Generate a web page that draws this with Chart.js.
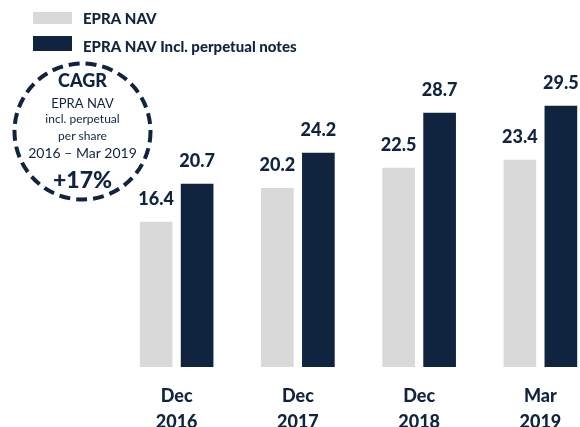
<!DOCTYPE html>
<html>
<head>
<meta charset="utf-8">
<script src="https://cdn.jsdelivr.net/npm/chart.js@4"></script>
<style>
  html, body { margin: 0; padding: 0; background: #fff; overflow: hidden; }
  #wrap { width: 580px; height: 427px; overflow: hidden; position: relative; }
  canvas { display: block; }
</style>
</head>
<body>
<div id="wrap"><canvas id="nav-chart" width="610" height="427"></canvas></div>
<script>
// EPRA NAV per share, grouped bars
const categories = [['Dec', '2016'], ['Dec', '2017'], ['Dec', '2018'], ['Mar', '2019']];
const epraNav = [16.4, 20.2, 22.5, 23.4];
const epraNavPerp = [20.7, 24.2, 28.7, 29.5];
const seriesNames = ['EPRA NAV', 'EPRA NAV Incl. perpetual notes'];
const cagrLines = ['CAGR', 'EPRA NAV', 'incl. perpetual', 'per share', '2016 \u2013 Mar 2019', '+17%'];

const NAVY = '#10233F';
const GREY = '#D9D9D9';
const FONT = 'Lato, "Open Sans", sans-serif';

// value labels above bars + two-line category labels
const labelsPlugin = {
    id: 'navLabels',
    afterDatasetsDraw(chart) {
        const ctx = chart.ctx;
        ctx.save();
        ctx.fillStyle = NAVY;
        ctx.textAlign = 'center';
        ctx.textBaseline = 'alphabetic';
        ctx.font = '900 18px ' + FONT;
        chart.data.datasets.forEach(function(ds, i) {
            chart.getDatasetMeta(i).data.forEach(function(bar, j) {
                ctx.fillText(ds.data[j].toFixed(1), bar.x, bar.y - 17);
            });
        });
        const xs = chart.scales.x;
        categories.forEach(function(lines, j) {
            const x = xs.getPixelForValue(j);
            ctx.fillText(lines[0], x, 402);
            ctx.fillText(lines[1], x, 428);
        });
        ctx.restore();
    }
};

// legend top-left and dashed CAGR badge
const extrasPlugin = {
    id: 'navExtras',
    afterDraw(chart) {
        const ctx = chart.ctx;
        ctx.save();
        // legend
        ctx.font = '900 15px ' + FONT;
        ctx.textAlign = 'left';
        chart.data.datasets.forEach(function(ds, i) {
            const y = 12 + i * 24;
            ctx.fillStyle = ds.backgroundColor;
            ctx.fillRect(33, y, 39, i === 0 ? 12 : 15);
            ctx.fillStyle = NAVY;
            ctx.fillText(ds.label, 83, 24 + i * 28);
        });

        // circle
        const cx = 82.5, cy = 131.5;
        ctx.strokeStyle = NAVY;
        ctx.lineWidth = 4;
        ctx.setLineDash([11, 6]);
        ctx.beginPath();
        ctx.arc(cx, cy, 68, 0, Math.PI * 2);
        ctx.stroke();
        ctx.setLineDash([]);

        ctx.textAlign = 'center';
        ctx.fillStyle = NAVY;
        const styles = [
            ['900 18px ', 87],
            ['13px ', 108],
            ['12px ', 123],
            ['12px ', 140],
            ['14px ', 158],
            ['900 23px ', 188]
        ];
        cagrLines.forEach(function(t, k) {
            ctx.font = styles[k][0] + FONT;
            ctx.fillText(t, cx, styles[k][1]);
        });
        ctx.restore();
    }
};

new Chart(document.getElementById('nav-chart'), {
    type: 'bar',
    data: {
        labels: categories,
        datasets: [
            { label: seriesNames[0], data: epraNav, backgroundColor: GREY },
            { label: seriesNames[1], data: epraNavPerp, backgroundColor: NAVY }
        ]
    },
    options: {
        responsive: false,
        animation: false,
        devicePixelRatio: 1,
        categoryPercentage: 0.676,
        barPercentage: 0.797,
        layout: { padding: { left: 116, right: 9, top: 57, bottom: 60 } },
        plugins: {
            legend: { display: false },
            tooltip: { enabled: false }
        },
        scales: {
            x: { display: false },
            y: { display: false, min: 0, max: 35 }
        }
    },
    plugins: [labelsPlugin, extrasPlugin]
});
</script>
</body>
</html>
